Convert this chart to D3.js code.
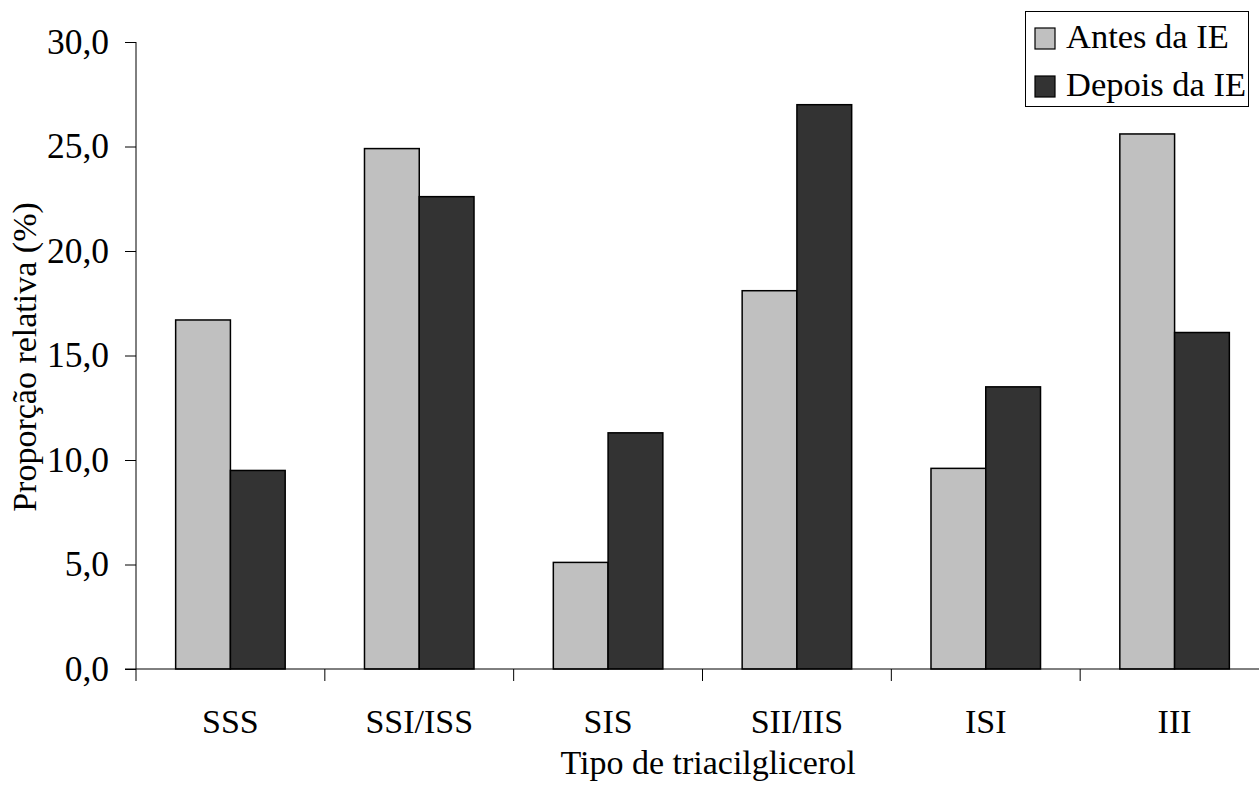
<!DOCTYPE html>
<html><head><meta charset="utf-8">
<script src="https://cdn.jsdelivr.net/npm/d3@7"></script>
<style>body{margin:0;background:#fff}svg{display:block}text{font-family:"Liberation Serif","Times New Roman",serif;fill:#000}</style>
</head><body><svg id="c" width="1259" height="785"></svg>
<script>
const categories = ["SSS","SSI/ISS","SIS","SII/IIS","ISI","III"];
const seriesNames = ["Antes da IE","Depois da IE"];
const antes = [16.7, 24.9, 5.1, 18.1, 9.6, 25.6];
const depois = [9.5, 22.6, 11.3, 27.0, 13.5, 16.1];
const yTicks = [0,5,10,15,20,25,30];
const colors = ["#c0c0c0","#333333"];

(function(){
const FS = "34px";
const svg = d3.select("#c");
const pL = 136, pR = 1269, pT = 42, pB = 669;
const x = d3.scaleBand().domain(categories).range([pL, pR]).paddingInner(0.42).paddingOuter(0.21);
const x1 = d3.scaleBand().domain(seriesNames).range([0, x.bandwidth()]);
const y = d3.scaleLinear().domain([0,30]).range([pB, pT]);
const xb = d3.scaleBand().domain(categories).range([pL, pR]);

const data = categories.map((c,i)=>({c, vals:[antes[i], depois[i]]}));
const g = svg.append("g");
data.forEach(d=>{
  d.vals.forEach((v,j)=>{
    g.append("rect")
      .attr("x", x(d.c)+x1(seriesNames[j]))
      .attr("y", y(v))
      .attr("width", x1.bandwidth())
      .attr("height", y(0)-y(v))
      .attr("fill", colors[j])
      .attr("stroke", "#000").attr("stroke-width", 1.5);
  });
});

const ya = svg.append("g").attr("transform",`translate(${pL},0)`)
  .call(d3.axisLeft(y).tickValues(yTicks).tickSize(11).tickPadding(16).tickFormat(d=>d3.format(".1f")(d).replace(".",",")));
ya.select(".domain").attr("d",`M0,${pT}V${pB}`);
ya.selectAll("text").style("font-size","35.5px").attr("dy","0.32em");

const xa = svg.append("g").attr("transform",`translate(0,${pB})`);
xa.append("line").attr("x1",pL-11).attr("x2",pR).attr("stroke","#000");
xa.selectAll(".tk").data(categories).enter().append("line")
  .attr("x1",d=>xb(d)).attr("x2",d=>xb(d)).attr("y1",0).attr("y2",12).attr("stroke","#000");
xa.selectAll(".lb").data(categories).enter().append("text")
  .attr("x",d=>xb(d)+xb.bandwidth()/2).attr("y",64).attr("text-anchor","middle")
  .style("font-size",FS).text(d=>d);

svg.append("text").attr("x",708).attr("y",774).attr("text-anchor","middle").style("font-size",FS).text("Tipo de triacilglicerol");
svg.append("text").attr("transform","translate(36,357) rotate(-90)").attr("text-anchor","middle").style("font-size",FS).text("Proporção relativa (%)");

const lg = svg.append("g");
lg.append("rect").attr("x",1025.5).attr("y",11.5).attr("width",223).attr("height",95).attr("fill","#fff").attr("stroke","#000").attr("stroke-width",1);
seriesNames.forEach((s,i)=>{
  const yy = 28 + i*48;
  lg.append("rect").attr("x",1035).attr("y",yy).attr("width",20).attr("height",21).attr("fill",colors[i]).attr("stroke","#000").attr("stroke-width",1.2);
  lg.append("text").attr("x",1066).attr("y",yy+20).style("font-size","34.5px").text(s);
});
})();
</script></body></html>
